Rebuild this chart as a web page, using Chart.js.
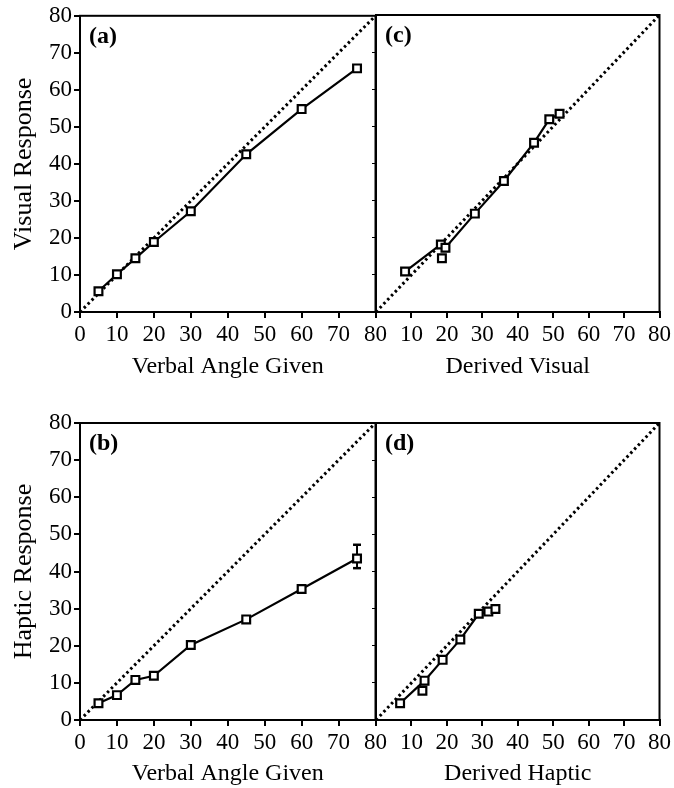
<!DOCTYPE html>
<html>
<head>
<meta charset="utf-8">
<script src="https://cdn.jsdelivr.net/npm/chart.js@4.4.1/dist/chart.umd.min.js"></script>
<style>
  html, body { margin: 0; padding: 0; background: #fff; }
  body { width: 674px; height: 788px; position: relative; overflow: hidden; }
  canvas { position: absolute; }
</style>
</head>
<body>
<canvas id="panelA" width="390" height="390" style="left:0;top:0"></canvas>
<canvas id="panelC" width="374" height="390" style="left:300px;top:0"></canvas>
<canvas id="panelB" width="390" height="398" style="left:0;top:390px"></canvas>
<canvas id="panelD" width="374" height="398" style="left:300px;top:390px"></canvas>
<script>
// values
const verbalAngles = [5, 10, 15, 20, 30, 45, 60, 75];
const visualResponse = [5.6, 10.2, 14.5, 18.9, 27.2, 42.6, 54.8, 65.8];
const hapticResponse = [4.5, 6.7, 10.8, 11.9, 20.2, 27.1, 35.3, 43.5];
const hapticErrorAt75 = [40.9, 47.2];

const derivedVisual = [8.2, 18.3, 19.6, 27.9, 36.1, 44.6, 48.9, 51.8];
const derivedVisualResponse = [10.9, 18.2, 17.3, 26.5, 35.3, 45.6, 51.9, 53.4];
const derivedVisualExtra = [18.6, 14.5];

const derivedHaptic = [6.8, 13.7, 18.8, 23.8, 29.0, 31.7, 33.7];
const derivedHapticResponse = [4.5, 10.6, 16.2, 21.7, 28.6, 29.2, 29.9];
const derivedHapticExtra = [13.1, 7.9];

const axisTicks = [0, 10, 20, 30, 40, 50, 60, 70, 80];
const identityLine = [0, 80];

const serif = '"Liberation Serif", "Times New Roman", serif';

const framePlugin = {
    id: 'frame',
    afterDraw(chart, args, opts) {
        const { ctx, chartArea: a } = chart;
        ctx.save();
        ctx.strokeStyle = '#000';
        ctx.lineWidth = 2;
        ctx.strokeRect(a.left, a.top, a.right - a.left, a.bottom - a.top);
        ctx.fillStyle = '#000';
        ctx.font = 'bold 24px ' + serif;
        ctx.textBaseline = 'alphabetic';
        ctx.fillText(opts.letter, a.left + 9, a.top + 27);
        ctx.restore();
    }
};

function pairs(xs, ys) {
    return xs.map((x, i) => ({ x: x, y: ys[i] }));
}

function makePanel(id, letter, xs, ys, extra, err, xTitle, yTitle, isLeft, isTop) {
    const datasets = [{
        data: pairs(xs, ys),
        borderColor: '#000',
        borderWidth: 2.2,
        pointStyle: 'rect',
        pointRadius: 5.5,
        pointBackgroundColor: '#fff',
        pointBorderColor: '#000',
        pointBorderWidth: 2.2,
        tension: 0,
        clip: false
    }];
    if (extra) {
        datasets.push({
            data: [{ x: extra[0], y: extra[1] }],
            showLine: false,
            pointStyle: 'rect',
            pointRadius: 5.5,
            pointBackgroundColor: '#fff',
            pointBorderColor: '#000',
            pointBorderWidth: 2.2,
            clip: false
        });
    }
    if (err) {
        datasets.push({
            data: [{ x: 75, y: err[0] }, { x: 75, y: err[1] }],
            borderColor: '#000',
            borderWidth: 2,
            pointStyle: 'line',
            pointRadius: 4,
            pointBorderColor: '#000',
            pointBorderWidth: 2.5,
            clip: false
        });
    }
    datasets.push({
        data: pairs(identityLine, identityLine),
        borderColor: '#000',
        borderWidth: 3,
        borderDash: [2.5, 3],
        pointRadius: 0
    });

    const canvasH = isTop ? 390 : 398;

    new Chart(document.getElementById(id), {
        type: 'line',
        data: { datasets: datasets },
        plugins: [framePlugin],
        options: {
            responsive: false,
            animation: false,
            events: [],
            layout: {
                padding: { left: 0, top: isTop ? 15 : 33, right: isLeft ? 14 : 12, bottom: 0 }
            },
            plugins: {
                legend: { display: false },
                tooltip: { enabled: false },
                frame: { letter: letter }
            },
            scales: {
                x: {
                    type: 'linear',
                    min: 0,
                    max: 80,
                    afterBuildTicks: s => { s.ticks = axisTicks.map(v => ({ value: v })); },
                    afterFit: s => { s.height = canvasH - (isTop ? 312 : 330); },
                    grid: { drawOnChartArea: false, drawTicks: true, tickLength: 6, color: '#000', lineWidth: 2 },
                    border: { display: true, color: '#000', width: 2 },
                    ticks: {
                        color: '#000',
                        font: { family: serif, size: 23 },
                        padding: 3,
                        autoSkip: false,
                        maxRotation: 0,
                        callback: v => (!isLeft && v === 0) ? '' : v
                    },
                    title: {
                        display: true,
                        text: xTitle,
                        color: '#000',
                        font: { family: serif, size: 24 },
                        padding: { top: 0, bottom: isTop ? 9 : 0 }
                    }
                },
                y: {
                    type: 'linear',
                    min: 0,
                    max: 80,
                    afterBuildTicks: s => { s.ticks = axisTicks.map(v => ({ value: v })); },
                    afterFit: s => { s.width = isLeft ? 80 : 76; },
                    grid: {
                        drawOnChartArea: false,
                        drawTicks: true,
                        tickLength: isLeft ? 6 : 4,
                        color: '#000',
                        lineWidth: isLeft ? 2 : 1
                    },
                    border: { display: true, color: '#000', width: 2 },
                    ticks: {
                        display: isLeft,
                        color: '#000',
                        font: { family: serif, size: 23 },
                        padding: 2
                    },
                    title: {
                        display: isLeft,
                        text: yTitle,
                        color: '#000',
                        font: { family: serif, size: 26 },
                        padding: { top: 9, bottom: 0 }
                    }
                }
            }
        }
    });
}

makePanel('panelA', '(a)', verbalAngles, visualResponse, null, null,
    'Verbal Angle Given', 'Visual Response', true, true);
makePanel('panelC', '(c)', derivedVisual, derivedVisualResponse, derivedVisualExtra, null,
    'Derived Visual', '', false, true);
makePanel('panelB', '(b)', verbalAngles, hapticResponse, null, hapticErrorAt75,
    'Verbal Angle Given', 'Haptic Response', true, false);
makePanel('panelD', '(d)', derivedHaptic, derivedHapticResponse, derivedHapticExtra, null,
    'Derived Haptic', '', false, false);
</script>
</body>
</html>
